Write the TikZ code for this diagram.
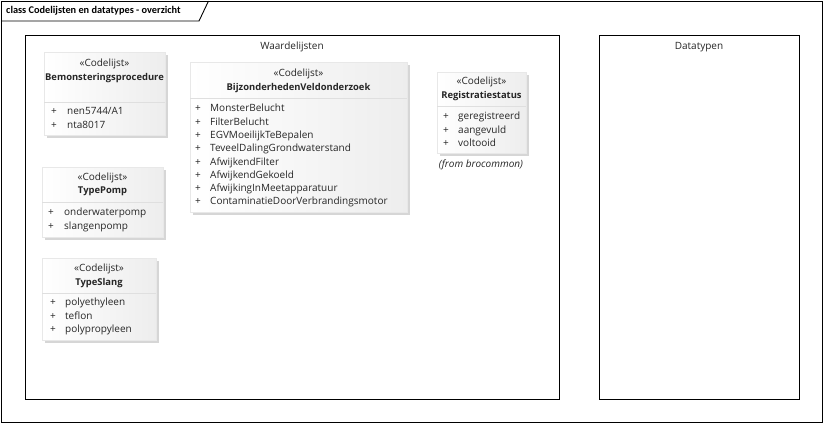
\documentclass[tikz,border=0pt]{standalone}
\usepackage{fontspec}
\setmainfont{Open Sans}
\newfontfamily\framefont{Carlito}
\usetikzlibrary{shadows}

% Geometry is given in screen pixels: x to the right, y downwards.
\tikzset{
  frameline/.style={draw=black, line width=0.9pt},
  pkgbox/.style={draw=black, line width=0.9pt, fill=white},
  classbox/.style={draw=gray!18, line width=0.4pt, left color=white, right color=gray!14,
    drop shadow={shadow xshift=2.5pt, shadow yshift=-2.5pt, fill=gray!70, opacity=0.45}},
  divider/.style={draw=gray!25, line width=0.6pt},
  txt/.style={inner sep=0pt, text height=8.8pt, text depth=1.2pt,
    font=\fontsize{10}{12}\selectfont, text=black!85},
  stereo/.style={txt},
  cname/.style={txt, font=\fontsize{9.4}{11}\selectfont\bfseries},
  attr/.style={txt, anchor=west},
  pkgtitle/.style={txt},
}

% \codebox{id}{left}{top}{right}{bottom}{stereotype y}{name y}{divider y}{name}
\newcommand{\codebox}[9]{%
  \node[classbox, anchor=north west, minimum width={#4-#2}, minimum height={#5-#3}, inner sep=0pt] (#1) at (#2,#3) {};
  \node[stereo] (#1-st) at ({(#2+#4)/2},#6) {«Codelijst»};
  \node[cname] (#1-nm) at ({(#2+#4)/2},#7) {#9};
  \coordinate (#1-dl) at (#2,#8);
  \coordinate (#1-dr) at (#4,#8);
  \draw[divider] (#1-dl) -- (#1-dr);
}
% \codeattrs{id}{plus x}{text x}{first attribute y}{attributes}
\newcommand{\codeattrs}[5]{%
  \foreach \a [count=\i from 0] in {#5} {
    \node[attr] (#1-p\i) at (#2,{#4+13.3*\i}) {+};
    \node[attr] (#1-a\i) at (#3,{#4+13.3*\i}) {\a};
  }%
}

\begin{document}
\begin{tikzpicture}[x=1pt, y=-1pt]
  \useasboundingbox (0,0) rectangle (824,424);
  \fill[white] (0,0) rectangle (824,424);

  % diagram frame with its name tab
  \node[draw=black, line width=0.9pt, anchor=north west, minimum width=821pt, minimum height=421pt, inner sep=0pt] (frame) at (1,1) {};
  \coordinate (tabA) at (1,21);
  \coordinate (tabB) at (199,21);
  \coordinate (tabC) at (208.5,1);
  \draw[frameline] (tabA) -- (tabB) -- (tabC);
  \node[anchor=west, inner sep=0pt, font=\framefont\fontsize{10.3}{12}\selectfont\bfseries] (frametitle) at (6,11) {class Codelijsten en datatypes - overzicht};

  % packages
  \node[pkgbox, anchor=north west, minimum width=534pt, minimum height=364pt, inner sep=0pt] (waarde) at (25,35) {};
  \node[pkgtitle] (waarde-t) at (292,46) {Waardelijsten};
  \node[pkgbox, anchor=north west, minimum width=200pt, minimum height=364pt, inner sep=0pt] (datat) at (599,35) {};
  \node[pkgtitle] (datat-t) at (699,46) {Datatypen};

  % code lists
  \codebox{bemon}{44}{52}{165}{135}{63}{77}{102}{Bemonsteringsprocedure}
  \codeattrs{bemon}{51}{67}{111}{nen5744/A1,nta8017}

  \codebox{bijz}{190}{62}{407}{212}{73}{87}{98}{BijzonderhedenVeldonderzoek}
  \codeattrs{bijz}{195}{210}{108}{MonsterBelucht,FilterBelucht,EGVMoeilijkTeBepalen,TeveelDalingGrondwaterstand,AfwijkendFilter,AfwijkendGekoeld,AfwijkingInMeetapparatuur,ContaminatieDoorVerbrandingsmotor}

  \codebox{regis}{437}{72}{526}{153}{81}{95}{106}{Registratiestatus}
  \codeattrs{regis}{443}{458}{116}{geregistreerd,aangevuld,voltooid}
  \node[txt, font=\fontsize{10}{12}\selectfont\itshape] (regis-from) at (481,164) {(from brocommon)};

  \codebox{pomp}{42}{167}{163}{237}{177}{190}{202}{TypePomp}
  \codeattrs{pomp}{48}{64}{212}{onderwaterpomp,slangenpomp}

  \codebox{slang}{42}{258}{156}{340}{268}{282}{293}{TypeSlang}
  \codeattrs{slang}{50}{65}{302}{polyethyleen,teflon,polypropyleen}
\end{tikzpicture}
\end{document}
